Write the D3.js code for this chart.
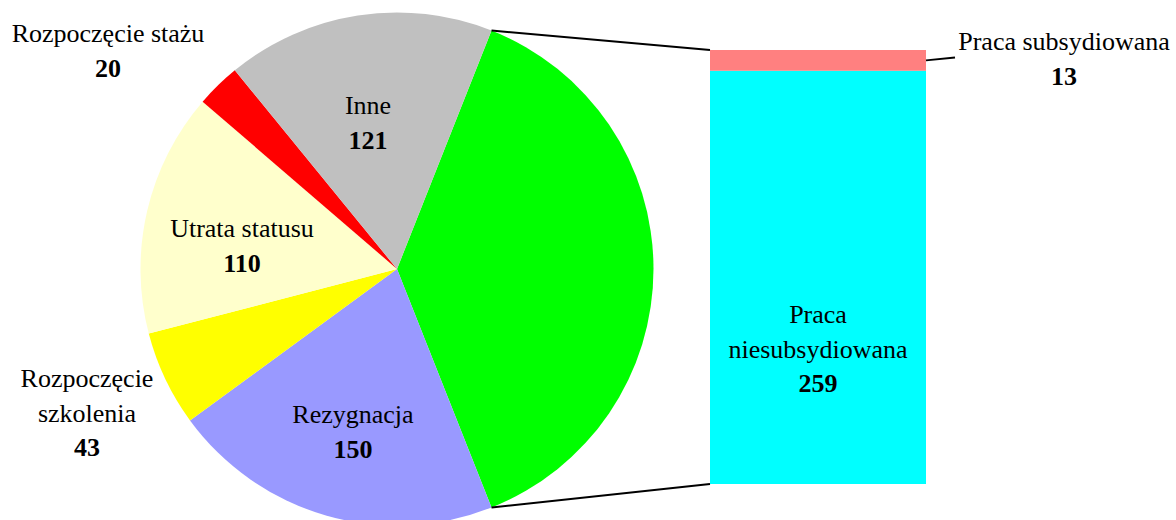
<!DOCTYPE html>
<html lang="pl">
<head>
  <meta charset="utf-8" />
  <title>Pie of bar</title>
  <style>
    body { margin: 0; background: #ffffff; }
  </style>
</head>
<body>
  <svg width="1176" height="520"></svg>

  <script src="https://cdn.jsdelivr.net/npm/d3@7/dist/d3.min.js"></script>
  <script>
    // pie slices (the first one is the sum of the bar)
    const pieNames = ["Praca", "Rezygnacja", "Rozpoczęcie szkolenia", "Utrata statusu", "Rozpoczęcie stażu", "Inne"];
    const pieValues = [272, 150, 43, 110, 20, 121];
    const pieColors = ["#00ff00", "#9999ff", "#ffff00", "#ffffcc", "#ff0000", "#c0c0c0"];
    // label lines for each slice, and where they sit (centre x, first baseline y)
    const pieLabels = [
      null,
      ["Rezygnacja"],
      ["Rozpoczęcie", "szkolenia"],
      ["Utrata statusu"],
      ["Rozpoczęcie stażu"],
      ["Inne"]
    ];
    const pieLabelPos = [null, [353, 423], [87, 387], [242, 237], [108, 42], [368, 114]];

    // bar breakdown of "Praca"
    const barNames = ["Praca niesubsydiowana", "Praca subsydiowana"];
    const barValues = [259, 13];
    const barColors = ["#00ffff", "#ff8080"];

    const FONT = "'Liberation Serif', 'Times New Roman', Times, 'DejaVu Serif', serif";

    const svg = d3.select("svg");
    const cx = 397, cy = 269, r = 256.5;

    const total = d3.sum(pieValues);
    const otherSpan = pieValues[0] / total * 2 * Math.PI;
    const start = Math.PI / 2 - otherSpan / 2;

    const pie = d3.pie().sort(null).value(d => d)
      .startAngle(start).endAngle(start + 2 * Math.PI);
    const arcs = pie(pieValues);
    const arc = d3.arc().innerRadius(0).outerRadius(r);

    const gPie = svg.append("g").attr("transform", `translate(${cx},${cy})`);
    gPie.selectAll("path").data(arcs).enter().append("path")
      .attr("d", arc)
      .attr("fill", (d, i) => pieColors[i]);

    // stacked bar
    const bx0 = 710, bx1 = 926;
    const y = d3.scaleLinear().domain([0, d3.sum(barValues)]).range([484, 50]);
    const stack = d3.cumsum(barValues);
    svg.append("g").selectAll("rect").data(barValues).enter().append("rect")
      .attr("x", bx0)
      .attr("width", bx1 - bx0)
      .attr("y", (d, i) => y(stack[i]))
      .attr("height", (d, i) => y(stack[i] - d) - y(stack[i]))
      .attr("fill", (d, i) => barColors[i]);

    // connector lines from the "Praca" slice to the bar
    const a0 = arcs[0].startAngle, a1 = arcs[0].endAngle;
    const lines = [
      [cx + r * Math.sin(a0), cy - r * Math.cos(a0), bx0, y(stack[stack.length - 1])],
      [cx + r * Math.sin(a1), cy - r * Math.cos(a1), bx0, y(0)]
    ];
    svg.append("g").selectAll("line").data(lines).enter().append("line")
      .attr("x1", d => d[0]).attr("y1", d => d[1])
      .attr("x2", d => d[2]).attr("y2", d => d[3])
      .attr("stroke", "#000").attr("stroke-width", 2);

    const lh = 34.5;
    function label(x, yb, lines, value) {
      const t = svg.append("text")
        .attr("text-anchor", "middle")
        .attr("font-family", FONT)
        .attr("font-size", 26)
        .attr("fill", "#000");
      lines.forEach((s, i) => {
        t.append("tspan").attr("x", x).attr("y", yb + i * lh).text(s);
      });
      t.append("tspan").attr("font-weight", "bold")
        .attr("x", x).attr("y", yb + lines.length * lh).text(value);
    }

    pieLabels.forEach((l, i) => {
      if (l) label(pieLabelPos[i][0], pieLabelPos[i][1], l, pieValues[i]);
    });

    // bar labels
    label((bx0 + bx1) / 2, 323, ["Praca", "niesubsydiowana"], barValues[0]);
    label(1064, 50, ["Praca subsydiowana"], barValues[1]);
    svg.append("line")
      .attr("x1", bx1).attr("y1", (y(stack[1]) + y(stack[0])) / 2)
      .attr("x2", 955).attr("y2", 57.5)
      .attr("stroke", "#000").attr("stroke-width", 2);
  </script>
</body>
</html>
